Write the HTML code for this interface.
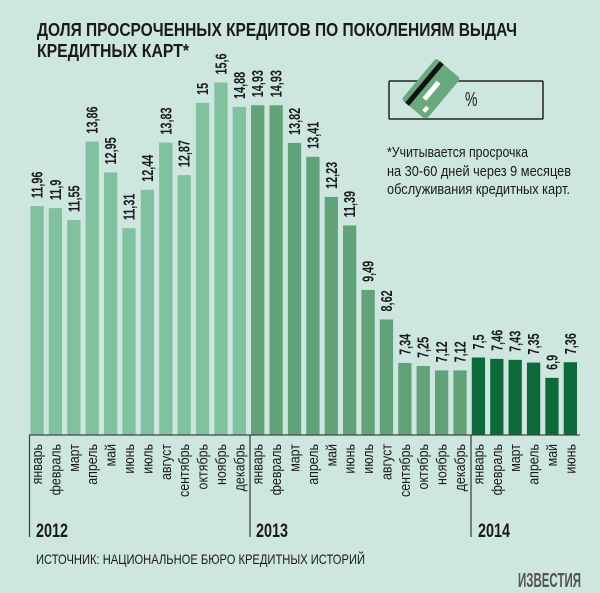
<!DOCTYPE html>
<html><head><meta charset="utf-8"><style>
html,body{margin:0;padding:0;background:#cde7e0;}
svg{display:block;}
text{font-family:"Liberation Sans",sans-serif;fill:#1a1a1a;}
</style></head><body>
<svg width="600" height="593" viewBox="0 0 600 593" xmlns="http://www.w3.org/2000/svg">
<rect width="600" height="593" fill="#cde7e0"/>
<text x="37" y="36" font-size="18" font-weight="bold" textLength="480" lengthAdjust="spacingAndGlyphs">ДОЛЯ ПРОСРОЧЕННЫХ КРЕДИТОВ ПО ПОКОЛЕНИЯМ ВЫДАЧ</text>
<text x="37" y="57" font-size="18" font-weight="bold" textLength="152" lengthAdjust="spacingAndGlyphs">КРЕДИТНЫХ КАРТ*</text>
<rect x="389" y="81" width="154" height="38" fill="none" stroke="#222" stroke-width="1.5" rx="1"/>
<g transform="translate(431,89) rotate(-50)">
<rect x="-27" y="-16" width="54" height="32" rx="3" fill="#6aa97e"/>
<rect x="-27" y="-11" width="54" height="5" fill="#111"/>
<rect x="-12" y="-1" width="22" height="5" fill="#fff"/>
<rect x="-22" y="7" width="6" height="4" fill="#fff"/>
</g>
<text x="0" y="0" font-size="20" transform="translate(465,106) scale(0.7,1)">%</text>
<g font-size="15">
<text x="387" y="157" textLength="141" lengthAdjust="spacingAndGlyphs">*Учитывается просрочка</text>
<text x="387" y="176" textLength="184" lengthAdjust="spacingAndGlyphs">на 30-60 дней через 9 месяцев</text>
<text x="387" y="194" textLength="183" lengthAdjust="spacingAndGlyphs">обслуживания кредитных карт.</text>
</g>
<g id="bars"></g>
<line x1="29" y1="435" x2="580" y2="435" stroke="#444" stroke-width="1.3"/>
<line x1="29.5" y1="435" x2="29.5" y2="537" stroke="#444" stroke-width="1.3"/>
<line x1="250" y1="435" x2="250" y2="537" stroke="#444" stroke-width="1.3"/>
<line x1="471" y1="435" x2="471" y2="537" stroke="#444" stroke-width="1.3"/>
<g font-size="19" font-weight="bold">
<text x="36" y="537" textLength="32" lengthAdjust="spacingAndGlyphs">2012</text>
<text x="256" y="537" textLength="32" lengthAdjust="spacingAndGlyphs">2013</text>
<text x="478" y="537" textLength="32" lengthAdjust="spacingAndGlyphs">2014</text>
</g>
<text x="36" y="564" font-size="14" textLength="329" lengthAdjust="spacingAndGlyphs">ИСТОЧНИК: НАЦИОНАЛЬНОЕ БЮРО КРЕДИТНЫХ ИСТОРИЙ</text>
<text x="518" y="587" font-size="20" font-weight="bold" font-family="Liberation Serif,serif" style="fill:#555" textLength="63" lengthAdjust="spacingAndGlyphs">ИЗВЕСТИЯ</text>
<g id="labels">
</g>
</svg>
<script>
var v=[11.96,11.9,11.55,13.86,12.95,11.31,12.44,13.83,12.87,15,15.6,14.88,14.93,14.93,13.82,13.41,12.23,11.39,9.49,8.62,7.34,7.25,7.12,7.12,7.5,7.46,7.43,7.35,6.9,7.36];
var m=["январь","февраль","март","апрель","май","июнь","июль","август","сентябрь","октябрь","ноябрь","декабрь"];
var ns="http://www.w3.org/2000/svg",g=document.getElementById("bars"),L=document.getElementById("labels");
function el(t,a,p,txt){var e=document.createElementNS(ns,t);for(var k in a)e.setAttribute(k,a[k]);if(txt)e.textContent=txt;p.appendChild(e);return e;}
for(var i=0;i<30;i++){
 var x=30.4+i*18.39,y=82.5+(15.6-v[i])*33.95;
 var c=i<12?"#80c1a0":(i<24?"#62a279":"#0e6a3a");
 el("rect",{x:x,y:y,width:13.3,height:435-y,fill:c},g);
 var cx=x+6.65+5.5;
 el("text",{transform:"translate("+cx+","+(y-8)+") rotate(-90) scale(0.7,1)","font-size":"15.5","font-weight":"bold"},L,String(v[i]).replace(".",","));
 var mx=x+6.65+5;
 el("text",{transform:"translate("+mx+",444) rotate(-90) scale(0.83,1)","font-size":"15","text-anchor":"end"},L,m[i%12]);
}
</script>
</body></html>
